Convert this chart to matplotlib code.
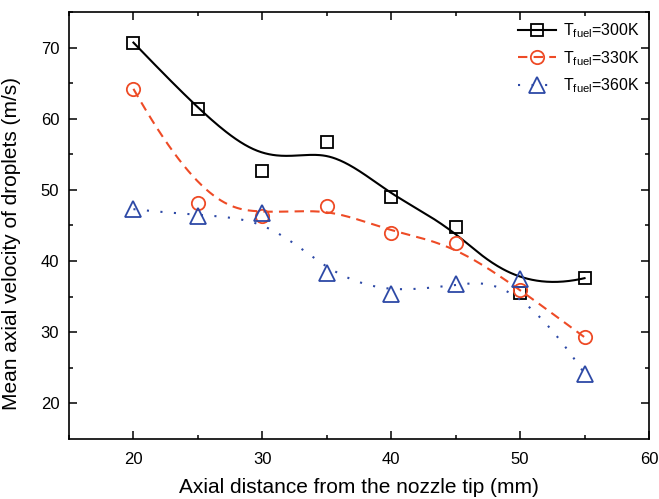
import matplotlib as mpl
import matplotlib.pyplot as plt
import numpy as np
from matplotlib.lines import Line2D

mpl.rcParams.update({
    "font.family": "Liberation Sans",
    "mathtext.fontset": "custom",
    "mathtext.rm": "Liberation Sans",
    "mathtext.it": "Liberation Sans",
})

# data
distance = [20, 25, 30, 35, 40, 45, 50, 55]
v_300 = [70.7, 61.3, 52.7, 56.7, 49.0, 44.8, 35.5, 37.6]
v_330 = [64.2, 48.2, 46.3, 47.7, 44.0, 42.5, 36.0, 29.3]
v_360 = [47.3, 46.3, 46.8, 38.3, 35.4, 36.8, 37.5, 24.2]

labels = [r"T$_{\mathrm{fuel}}$=300K", r"T$_{\mathrm{fuel}}$=330K", r"T$_{\mathrm{fuel}}$=360K"]
colors = ["black", "#EE4B26", "#2D49A6"]


def bspline(px, py, k=3, n=300):
    """Clamped cubic B-spline using the data points as control points."""
    P = np.column_stack([px, py]).astype(float)
    m = len(P)
    knots = np.concatenate([np.zeros(k), np.arange(m - k + 1), np.full(k, m - k)]).astype(float)
    t = np.linspace(0, m - k, n)
    nb = len(knots) - 1
    N = np.zeros((n, nb))
    for i in range(nb):
        N[:, i] = (knots[i] <= t) & (t < knots[i + 1])
    N[-1, m - 1] = 1.0  # close the last interval
    for d in range(1, k + 1):
        Nn = np.zeros((n, nb - d))
        for i in range(nb - d):
            a = knots[i + d] - knots[i]
            b = knots[i + d + 1] - knots[i + 1]
            left = (t - knots[i]) / a * N[:, i] if a > 0 else 0.0
            right = (knots[i + d + 1] - t) / b * N[:, i + 1] if b > 0 else 0.0
            Nn[:, i] = left + right
        N = Nn
    C = N @ P
    return C[:, 0], C[:, 1]


fig = plt.figure(figsize=(6.59, 4.99), dpi=100)
ax = fig.add_axes([0.1047, 0.1202, 0.8801, 0.8558])

series = [v_300, v_330, v_360]
markers = ["s", "o", "^"]
msizes = [8.5, 9.6, 11]
dashes = [None, (4.5, 3.0), (1.0, 5.5)]

handles = []
for y, c, mk, ms, ds, lab in zip(series, colors, markers, msizes, dashes, labels):
    sx, sy = bspline(distance, y)
    line, = ax.plot(sx, sy, color=c, lw=1.5)
    if ds is not None:
        line.set_dashes(ds)
    ax.plot(distance, y, linestyle="none", marker=mk, ms=ms, mfc="none",
            mec=c, mew=1.3)
    h = Line2D([], [], color=c, lw=1.5, marker=mk, ms=ms, mfc="none", mec=c, mew=1.3)
    if ds is not None:
        h.set_dashes(ds)
    handles.append(h)

ax.set_xlim(15, 60)
ax.set_ylim(15, 75)
ax.set_xticks([20, 30, 40, 50, 60])
ax.set_xticks([15, 25, 35, 45, 55], minor=True)
ax.set_yticks([20, 30, 40, 50, 60, 70])
ax.set_yticks([25, 35, 45, 55, 65, 75], minor=True)
ax.tick_params(which="both", direction="in", top=True, right=True, width=1.1)
ax.tick_params(which="major", length=6, labelsize=12)
ax.tick_params(axis="x", which="major", pad=9)
ax.tick_params(axis="y", which="major", pad=7)
ax.tick_params(which="minor", length=3)
for sp in ax.spines.values():
    sp.set_linewidth(1.2)

ax.set_xlabel("Axial distance from the nozzle tip (mm)", fontsize=15, labelpad=8)
ax.set_ylabel("Mean axial velocity of droplets (m/s)", fontsize=15)
ax.yaxis.set_label_coords(-0.083, 0.457)

ax.legend(handles, labels, loc="upper right", frameon=False, fontsize=11.5,
          handlelength=2.4, handletextpad=0.4, labelspacing=0.55,
          borderaxespad=0.2)

fig.savefig("out.png", dpi=100)
